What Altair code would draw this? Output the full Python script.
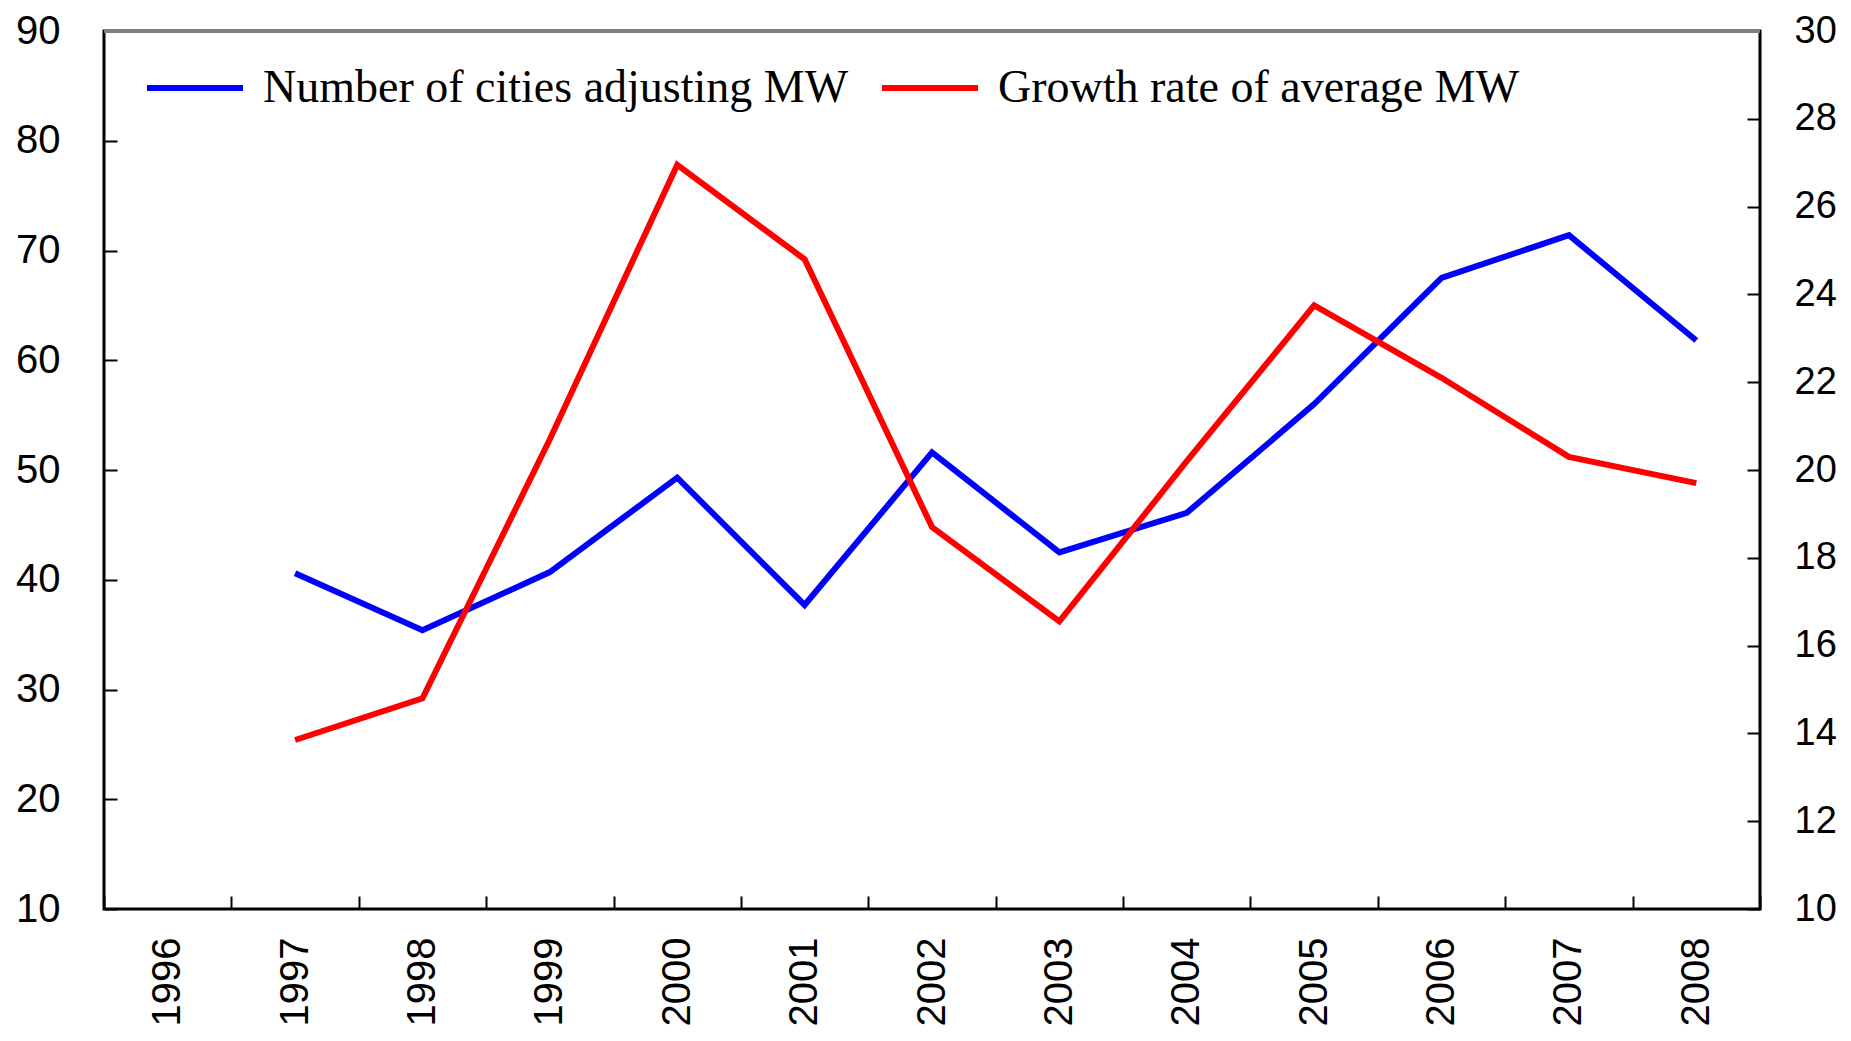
import altair as alt
import pandas as pd

# Category axis (1996 has no data)
years = [str(y) for y in range(1996, 2009)]
data_years = [str(y) for y in range(1997, 2009)]

# Left axis series: number of cities adjusting MW
cities = [40.6, 35.4, 40.7, 49.3, 37.7, 51.6, 42.5, 46.1, 56.0, 67.5, 71.4, 61.8]
# Right axis series: growth rate of average MW (%)
growth = [13.85, 14.8, 20.7, 26.95, 24.8, 18.7, 16.55, 20.2, 23.75, 22.1, 20.3, 19.7]

series_names = ["Number of cities adjusting MW", "Growth rate of average MW"]
series_colors = ["#0000FF", "#FF0000"]

left_ticks = list(range(10, 91, 10))
right_ticks = list(range(10, 31, 2))

W, H = 1656, 878
TICK = 13
LABEL_FONT = "Liberation Sans"

df = pd.DataFrame({"year": data_years, "cities": cities, "growth": growth})
base = alt.Chart(df)

x_enc = alt.X(
    "year:O",
    scale=alt.Scale(type="band", domain=years, paddingInner=0, paddingOuter=0),
    bandPosition=0.5,
    axis=alt.Axis(
        orient="bottom", title=None, labelAngle=270, tickBand="extent",
        offset=-TICK, tickSize=TICK, domain=False, grid=False,
        labelPadding=28, labelFont=LABEL_FONT, labelFontSize=40,
        labelColor="black", tickColor="black", tickWidth=2,
        labelOverlap=False, labelFlush=False,
    ),
)

color_scale = alt.Scale(domain=series_names, range=series_colors)

blue = base.transform_calculate(series=f"'{series_names[0]}'").mark_line(
    strokeWidth=6, strokeJoin="miter"
).encode(
    x=x_enc,
    y=alt.Y(
        "cities:Q",
        scale=alt.Scale(domain=[10, 90], nice=False, zero=False),
        axis=alt.Axis(
            orient="left", title=None, values=left_ticks, offset=-TICK,
            tickSize=TICK, domain=False, grid=False, labelPadding=44,
            labelFont=LABEL_FONT, labelFontSize=40, labelColor="black",
            tickColor="black", tickWidth=2,
        ),
    ),
    color=alt.Color(
        "series:N",
        scale=color_scale,
        legend=alt.Legend(
            title=None, orient="none", legendX=40, legendY=6,
            direction="horizontal", symbolType="stroke", symbolSize=9216,
            symbolStrokeWidth=6, labelFont="Liberation Serif",
            labelFontSize=46, labelColor="black", labelOffset=17,
            columnPadding=21, padding=0, labelLimit=1000,
        ),
    ),
)

red = base.transform_calculate(series=f"'{series_names[1]}'").mark_line(
    strokeWidth=6, strokeJoin="miter"
).encode(
    x=x_enc,
    y=alt.Y(
        "growth:Q",
        scale=alt.Scale(domain=[10, 30], nice=False, zero=False),
        axis=alt.Axis(
            orient="right", title=None, values=right_ticks, offset=-TICK,
            tickSize=TICK, domain=False, grid=False, labelPadding=34,
            labelFont=LABEL_FONT, labelFontSize=38, labelColor="black",
            tickColor="black", tickWidth=2,
        ),
    ),
    color=alt.Color("series:N", scale=color_scale),
)

top_border = base.mark_rule(color="#808080", strokeWidth=3).encode(
    x=alt.value(0), x2=alt.value(W), y=alt.value(0)
)

chart = (
    alt.layer(blue, red, top_border)
    .resolve_scale(y="independent")
    .properties(
        width=W, height=H,
        autosize=alt.AutoSizeParams(type="none"),
        padding={"left": 96, "top": 23, "right": 82, "bottom": 123},
    )
    .configure(
        background="white",
        view=alt.ViewConfig(stroke="black", strokeWidth=3),
    )
)

chart.save("out.html", embed_options={"renderer": "svg", "actions": False})
